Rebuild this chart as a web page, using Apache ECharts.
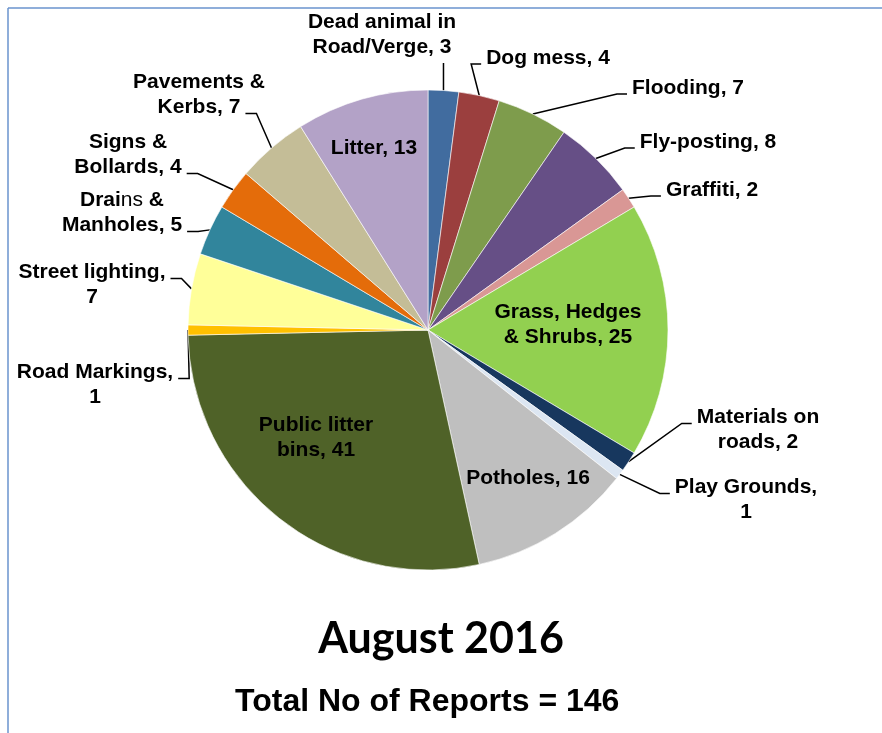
<!DOCTYPE html>
<html>
<head>
<meta charset="utf-8">
<script src="https://cdn.jsdelivr.net/npm/echarts@6/dist/echarts.min.js"></script>
<style>
html,body{margin:0;padding:0;background:#fff;}
#chart{width:882px;height:733px;}
</style>
</head>
<body>
<div id="chart"></div>
<script>
// ---- data ----
const categories = ['Dead animal in\nRoad/Verge', 'Dog mess', 'Flooding', 'Fly-posting', 'Graffiti',
  'Grass, Hedges\n& Shrubs', 'Materials on\nroads', 'Play Grounds', 'Potholes', 'Public litter\nbins',
  'Road Markings', 'Street lighting', 'Drains &\nManholes', 'Signs &\nBollards', 'Pavements &\nKerbs', 'Litter'];
const values = [3, 4, 7, 8, 2, 25, 2, 1, 16, 41, 1, 7, 5, 4, 7, 13];
const colors = ['#416C9F', '#9B3F3E', '#7E9C4C', '#664F86', '#D99795', '#92D050', '#17375E', '#DCE6F2',
  '#BFBFBF', '#4F6228', '#FFC000', '#FFFF99', '#31859C', '#E46C0A', '#C4BD97', '#B3A2C7'];
const valueOnNewLine = ['Play Grounds', 'Road Markings', 'Street lighting'];
const chartTitle = 'August 2016';

// ---- layout (label placement, not data) ----
const labelPlace = [
  {x: 382, y: 35, side: 'bottom'},
  {x: 548, y: 58, side: 'left', row: 0},
  {x: 688, y: 88, side: 'left', row: 0},
  {x: 708, y: 142, side: 'left', row: 0},
  {x: 712, y: 190, side: 'left', row: 0},
  {x: 568, y: 325, inside: true},
  {x: 758, y: 430, side: 'left', row: 0},
  {x: 746, y: 500, side: 'left', row: 0},
  {x: 528, y: 478, inside: true},
  {x: 316, y: 438, inside: true},
  {x: 95, y: 385, side: 'right', row: 0},
  {x: 92, y: 285, side: 'right', row: 0},
  {x: 122, y: 213, side: 'right', row: 1},
  {x: 128, y: 155, side: 'right', row: 1},
  {x: 199, y: 95, side: 'right', row: 1},
  {x: 374, y: 148, inside: true}
];
const CX = 428, CY = 330, R = 240, LH = 25;
const FONT = '"Liberation Sans", Arial, sans-serif';

const total = values.reduce((a, b) => a + b, 0);
const ctx = document.createElement('canvas').getContext('2d');
ctx.font = 'bold 21px ' + FONT;
function textW(s) { return ctx.measureText(s).width; }

function plainLabel(i) {
  const n = categories[i];
  const sep = valueOnNewLine.indexOf(n) >= 0 ? ',\n' : ', ';
  return n + sep + values[i];
}
function arcPoint(i) {
  let cum = 0;
  for (let k = 0; k < i; k++) cum += values[k];
  const a = (cum + values[i] / 2) / total * Math.PI * 2;
  return [CX + R * Math.sin(a), CY - R * Math.cos(a)];
}

const data = categories.map((n, i) => ({
  name: n,
  value: values[i],
  itemStyle: {color: colors[i]},
  label: {position: labelPlace[i].inside ? 'inside' : 'outside'},
  labelLine: {show: !labelPlace[i].inside}
}));

const chart = echarts.init(document.getElementById('chart'), null, {renderer: 'canvas'});
chart.setOption({
  animation: false,
  backgroundColor: '#fff',
  title: [
    {text: chartTitle, left: 'center', top: 618, padding: 0,
      textStyle: {fontFamily: 'Lato', fontWeight: 'bold', fontSize: 43, color: '#000'}},
    {text: 'Total No of Reports = ' + total, left: 235, top: 686, padding: 0,
      textStyle: {fontFamily: FONT, fontWeight: 'bold', fontSize: 32, color: '#000'}}
  ],
  graphic: [
    {type: 'line', shape: {x1: 8, y1: 8, x2: 882, y2: 8}, style: {stroke: '#6A93CE', lineWidth: 1.5}},
    {type: 'line', shape: {x1: 8, y1: 8, x2: 8, y2: 733}, style: {stroke: '#6A93CE', lineWidth: 1.5}}
  ],
  series: [{
    type: 'pie',
    center: [CX, CY],
    radius: R,
    startAngle: 90,
    clockwise: true,
    avoidLabelOverlap: false,
    emphasis: {disabled: true},
    itemStyle: {borderColor: '#fff', borderWidth: 0.6},
    label: {
      color: '#000',
      fontFamily: FONT,
      fontWeight: 'bold',
      fontSize: 21,
      lineHeight: LH,
      formatter: function (p) {
        let s = plainLabel(p.dataIndex);
        s = s.replace('Drains', 'Drai{r|ns}');
        return s;
      },
      rich: {
        r: {fontFamily: FONT, fontWeight: 'normal', fontSize: 21, lineHeight: LH, color: '#000'}
      }
    },
    labelLine: {lineStyle: {color: '#000', width: 1.5}},
    labelLayout: function (params) {
      const i = params.dataIndex;
      const p = labelPlace[i];
      const res = {x: p.x, y: p.y, align: 'center', verticalAlign: 'middle'};
      if (!p.inside) {
        const lines = plainLabel(i).split('\n');
        const h = lines.length * LH;
        const top = p.y - h / 2;
        const arc = arcPoint(i);
        let pts;
        if (p.side === 'bottom') {
          pts = [arc, [arc[0], top + h + 3]];
        } else {
          const w = textW(lines[p.row]);
          const ay = top + LH * p.row + LH / 2 + 6;
          if (p.side === 'left') {
            const lx = p.x - w / 2;
            pts = [arc, [lx - 15, ay], [lx - 5, ay]];
          } else {
            const rx = p.x + w / 2;
            pts = [arc, [rx + 16, ay], [rx + 5, ay]];
          }
        }
        res.labelLinePoints = pts;
      }
      return res;
    },
    data: data
  }]
});
</script>
</body>
</html>
